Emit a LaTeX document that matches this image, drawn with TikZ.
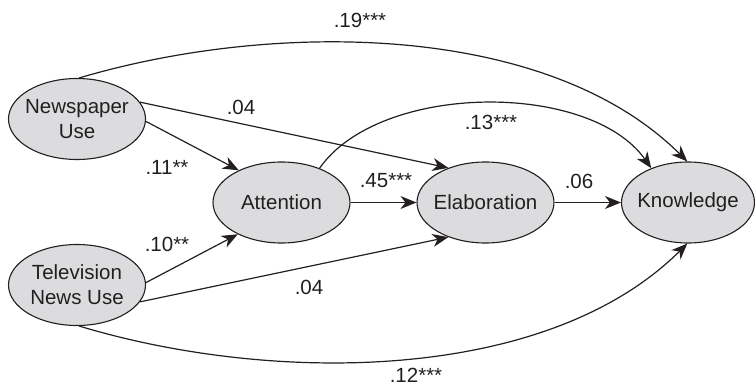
\documentclass[tikz,border=0pt]{standalone}
\usepackage{fontspec}
\setmainfont{Liberation Sans}
\usetikzlibrary{shapes.geometric,arrows.meta}
\definecolor{varfill}{RGB}{220,220,222}
\definecolor{ink}{RGB}{35,31,32}
\begin{document}
\begin{tikzpicture}[x=1pt,y=-1pt,
  every node/.style={font=\fontsize{20.5}{25}\selectfont, text=ink},
  var/.style={ellipse, draw=ink, line width=1.1pt, fill=varfill,
              minimum width=137pt, minimum height=81pt, inner sep=0pt},
  vartext/.style={align=center, inner sep=0pt},
  path/.style={draw=ink, line width=1.2pt,
               -{Stealth[length=16pt,width=13pt,inset=5pt]}},
  coef/.style={inner sep=0pt}]
\useasboundingbox (0,0) rectangle (755,385);

% variables
\node[var] (news) at (77,119) {};
\node[vartext] (newsT) at (news.center) {Newspaper\\Use};
\node[var] (tv) at (77,285) {};
\node[vartext] (tvT) at (tv.center) {Television\\News Use};
\node[var] (att) at (281.5,202.5) {};
\node[vartext] (attT) at (att.center) {Attention};
\node[var] (elab) at (485.5,202.5) {};
\node[vartext] (elabT) at (elab.center) {Elaboration};
\node[var, minimum width=133pt] (know) at (688,202.5) {};
\node[vartext] (knowT) at (know.center) {Knowledge};

% straight paths
\draw[path] (news.-2) -- (att.143);
\draw[path] (news.15) -- (elab.137);
\draw[path] (tv.2) -- (att.216);
\draw[path] (tv.-15) -- (elab.223);
\draw[path] (att.east) -- (elab.west);
\draw[path] (elab.east) -- (know.west);

% curved paths
\draw[path] (news.87) .. controls (271,21) and (546,21) .. (know.91);
\draw[path] (tv.273) .. controls (271,384) and (546,384) .. (know.269);
\draw[path] (att.42) .. controls (380,82) and (590,81) .. (know.137);

% coefficients
\node[coef] (c19) at (360,20) {.19***};
\node[coef] (c04a) at (241,107) {.04};
\node[coef] (c11) at (167,167) {.11**};
\node[coef] (c10) at (167,244) {.10**};
\node[coef] (c04b) at (309,287) {.04};
\node[coef] (c13) at (491,122) {.13***};
\node[coef] (c45) at (386,181) {.45***};
\node[coef] (c06) at (579,181) {.06};
\node[coef] (c12) at (416,375) {.12***};
\end{tikzpicture}
\end{document}
